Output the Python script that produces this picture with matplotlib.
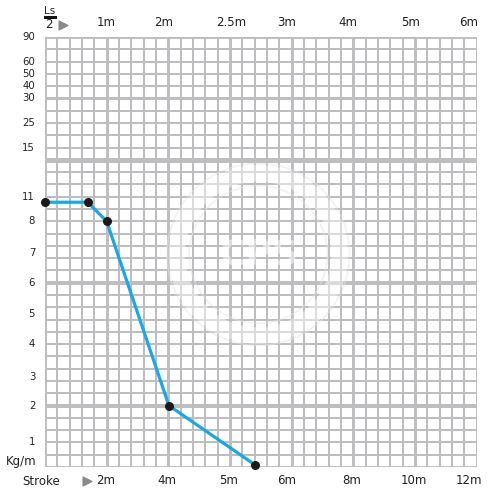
import numpy as np
import matplotlib.pyplot as plt
from matplotlib.patches import Circle

# grid is 35 x 35 cells; everything below is in cell units
n_cells = 35

# curve points (x = stroke cells, y = weight cells)
curve_x = [0, 3.47, 5.0, 10.05, 17.0]
curve_y = [21.55, 21.55, 20.0, 5.0, 0.2]

# left axis labels (Kg/m) and their cell positions
y_labels = ['90', '60', '50', '40', '30', '25', '15', '11', '8', '7', '6', '5', '4', '3', '2', '1']
y_pos = [35, 33, 32, 31, 30, 28, 26, 22, 20, 17.4, 15, 12.45, 10, 7.35, 5, 2]

# top labels (Ls/2) and bottom labels (stroke)
top_labels = ['1m', '2m', '2.5m', '3m', '4m', '5m', '6m']
top_pos = [4.95, 9.6, 15.1, 19.6, 24.6, 29.65, 34.4]
bot_labels = ['2m', '4m', '5m', '6m', '8m', '10m', '12m']
bot_pos = [4.95, 9.9, 14.9, 19.6, 24.9, 29.9, 34.4]

thick_h = {30: 2.2, 25: 3.6, 15: 2.9, 5: 2.9}
grid_col = '#bebec1'

fig = plt.figure(figsize=(4.9, 4.98), dpi=100)
ax = fig.add_axes([45/490, 31/498, 431.5/490, 430/498])
ax.set_xlim(0, n_cells)
ax.set_ylim(0, n_cells)
for s in ax.spines.values():
    s.set_visible(False)
ax.set_xticks([])
ax.set_yticks([])

for i in range(n_cells + 1):
    lw = 1.45
    if i % 5 == 0:
        lw = 2.1
    ax.axvline(i, color=grid_col, lw=lw, zorder=1)
    lw = thick_h.get(i, 1.45)
    if i in (0, 35):
        lw = 2.1
    ax.axhline(i, color=grid_col, lw=lw, zorder=1)

# faint watermark washing over the grid
ax.add_patch(Circle((17.3, 17.3), 6.6, fill=False, ec='white', alpha=0.45, lw=12, zorder=2))
ax.add_patch(Circle((17.3, 17.3), 7.4, fill=False, ec='#e4e4e4', alpha=0.5, lw=1.2, zorder=2))
ax.add_patch(Circle((17.3, 17.3), 5.6, fill=False, ec='#e4e4e4', alpha=0.5, lw=1.2, zorder=2))
ax.text(17.3, 17.3, 'CPS', fontsize=26, fontweight='bold', color='white', alpha=0.5,
        ha='center', va='center', zorder=2)

ax.plot(curve_x, curve_y, color='#18a8e6', lw=2.3, zorder=3, clip_on=False)
ax.scatter(curve_x, curve_y, s=30, color='#1a1a1a', zorder=4, clip_on=False)

for lab, p in zip(y_labels, y_pos):
    ax.text(-0.8, p, lab, ha='right', va='center', fontsize=7.3, color='#222222')
ax.text(-0.65, 0.45, 'Kg/m', ha='right', va='center', fontsize=8.5, color='#222222')

for lab, p in zip(top_labels, top_pos):
    ax.text(p, 36.15, lab, ha='center', va='center', fontsize=8.5, color='#222222')
for lab, p in zip(bot_labels, bot_pos):
    ax.text(p, -1.1, lab, ha='center', va='center', fontsize=8.5, color='#222222')

# Ls / 2 header
ax.text(0.4, 37.1, 'Ls', ha='center', va='center', fontsize=7.5, color='#222222')
ax.plot([0.0, 0.8], [36.62, 36.62], color='#111111', lw=2.2, clip_on=False)
ax.text(0.35, 36.05, '2', ha='center', va='center', fontsize=8.5, color='#222222')
ax.scatter([1.5], [36.0], marker='>', s=40, color='#8a8a8a', clip_on=False)

# Stroke header
ax.text(-0.35, -1.15, 'Stroke', ha='center', va='center', fontsize=8.5, color='#222222')
ax.scatter([3.4], [-1.15], marker='>', s=40, color='#8a8a8a', clip_on=False)

fig.savefig('out.png', dpi=100)
